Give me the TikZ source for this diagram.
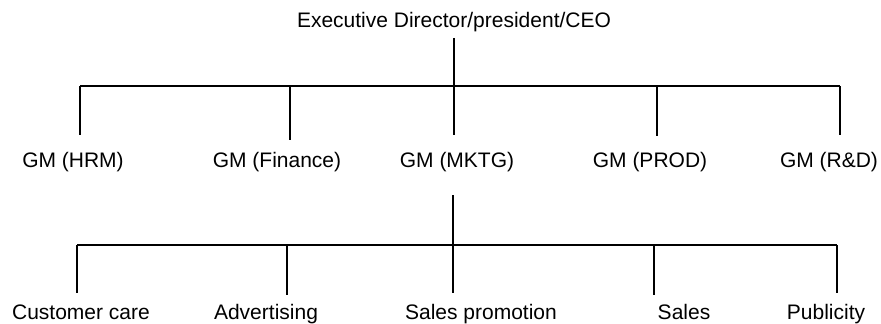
\documentclass[tikz,border=0pt]{standalone}
\usepackage{fontspec}
\setmainfont{Liberation Sans}
\usetikzlibrary{positioning}

\begin{document}
\begin{tikzpicture}[x=0.5pt, y=-0.5pt, line width=0.6pt,
  every node/.style={anchor=base, inner sep=0pt, font=\fontsize{10.5}{12}\selectfont}]
\useasboundingbox (0,0) rectangle (881,323);
% top level
\node (ceo) at (454,27) {Executive Director/president/CEO};
\coordinate (topL) at (80,86);
\coordinate (topR) at (840,86);
\draw (topL) -- (topR);
\draw ([yshift=-3pt]ceo.south) -- (ceo.south |- 0,135);
\foreach \x/\y in {80/135, 290/140, 657/136, 840/135}
  \draw (\x,86) -- (\x,\y);
\node (hrm) at (73,167) {GM (HRM)};
\node (fin) at (277,167) {GM (Finance)};
\node (mktg) at (457,167) {GM (MKTG)};
\node (prod) at (650,167) {GM (PROD)};
\node (rd) at (829,167) {GM (R\&D)};
% marketing level
\coordinate (botL) at (77,245);
\coordinate (botR) at (837,245);
\draw (botL) -- (botR);
\draw (453,195) -- (453,293);
\foreach \x/\y in {77/293, 287/295, 654/295, 837/293}
  \draw (\x,245) -- (\x,\y);
\node (care) at (81,319) {Customer care};
\node (adv) at (266,319) {Advertising};
\node (promo) at (481,319) {Sales promotion};
\node (sales) at (684,319) {Sales};
\node (pub) at (826,319) {Publicity};
\end{tikzpicture}
\end{document}
